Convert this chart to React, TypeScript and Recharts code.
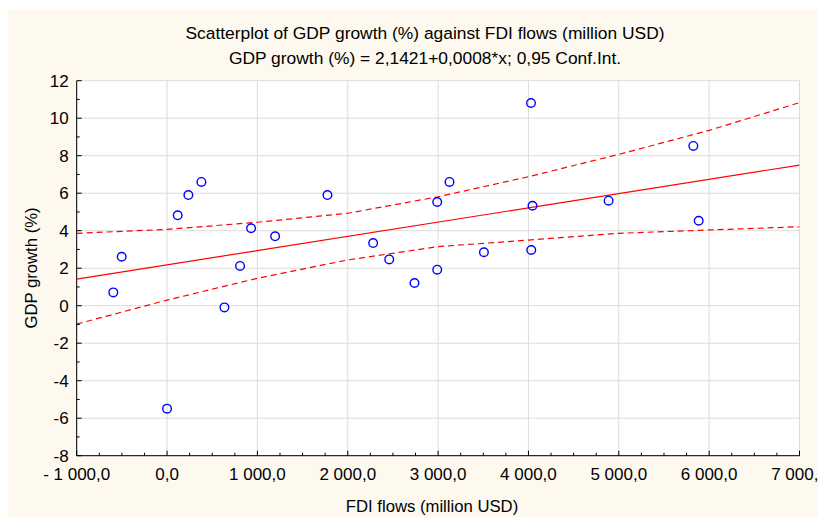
import React from 'react';
import { ScatterChart, Scatter, XAxis, YAxis, CartesianGrid } from 'recharts';

const fdiFlows = [-595, -502, 0, 118, 236, 380, 635, 808, 930, 1196, 1775, 2281, 2459, 2739, 2990, 2990, 3126, 3507, 4028, 4031, 4045, 4887, 5825, 5884];
const gdpGrowth = [0.71, 2.61, -5.49, 4.82, 5.9, 6.6, -0.09, 2.12, 4.13, 3.7, 5.9, 3.34, 2.47, 1.21, 1.92, 5.53, 6.6, 2.85, 10.81, 2.97, 5.33, 5.6, 8.52, 4.53];

// regression line and 0.95 confidence band
const fitX = [-1000, 7000];
const fitY = [1.42, 7.5];
const bandX = [-1000, 0, 1000, 2000, 3000, 4000, 5000, 6000, 7000];
const upperY = [3.86, 4.07, 4.45, 4.93, 5.81, 6.88, 8.07, 9.35, 10.83];
const lowerY = [-0.98, 0.3, 1.46, 2.44, 3.15, 3.5, 3.86, 4.04, 4.21];

const xMajorTicks = [-1000, 0, 1000, 2000, 3000, 4000, 5000, 6000, 7000];
const xMinorTicks = [-750, -500, -250, 250, 500, 750, 1250, 1500, 1750, 2250, 2500, 2750, 3250, 3500, 3750, 4250, 4500, 4750, 5250, 5500, 5750, 6250, 6500, 6750];
const yMajorTicks = [-8, -6, -4, -2, 0, 2, 4, 6, 8, 10, 12];
const yMinorTicks = [-7, -5, -3, -1, 1, 3, 5, 7, 9, 11];

const xTicks = [...xMajorTicks, ...xMinorTicks].sort((a, b) => a - b);
const yTicks = [...yMajorTicks, ...yMinorTicks].sort((a, b) => a - b);

const points = fdiFlows.map((x, i) => ({ x, y: gdpGrowth[i] }));
const fitLine = fitX.map((x, i) => ({ x, y: fitY[i] }));
const upperBand = bandX.map((x, i) => ({ x, y: upperY[i] }));
const lowerBand = bandX.map((x, i) => ({ x, y: lowerY[i] }));

const FONT = '"Liberation Sans", Arial, sans-serif';
const BG = '#fdf9ee';
const TICK_FONT = 17;
const X_MARGIN = 12;
const Y_MARGIN = 8;
const MAJOR = 5;
const MINOR = 3;

const fmtX = (v: number) => {
  const abs = Math.abs(v).toFixed(1).replace('.', ',');
  const [int, dec] = abs.split(',');
  const grouped = int.replace(/\B(?=(\d{3})+(?!\d))/g, ' ');
  return (v < 0 ? '- ' : '') + grouped + ',' + dec;
};

const BottomTick = (props: any) => {
  const { x, y, payload } = props;
  const major = xMajorTicks.includes(payload.value);
  const axisY = y - X_MARGIN;
  return (
    <g>
      <line x1={x} x2={x} y1={axisY} y2={axisY - (major ? MAJOR : MINOR)} stroke="#000" />
      {major && (
        <text x={x} y={y} dy="0.72em" textAnchor="middle" fontFamily={FONT} fontSize={TICK_FONT} fill="#000">
          {fmtX(payload.value)}
        </text>
      )}
    </g>
  );
};

const TopTick = (props: any) => {
  const { x, y, payload } = props;
  const major = xMajorTicks.includes(payload.value);
  return <line x1={x} x2={x} y1={y} y2={y + (major ? MAJOR : MINOR)} stroke="#000" />;
};

const LeftTick = (props: any) => {
  const { x, y, payload } = props;
  const major = yMajorTicks.includes(payload.value);
  const axisX = x + Y_MARGIN;
  return (
    <g>
      <line x1={axisX} x2={axisX + (major ? MAJOR : MINOR)} y1={y} y2={y} stroke="#000" />
      {major && (
        <text x={x} y={y} dy="0.36em" textAnchor="end" fontFamily={FONT} fontSize={TICK_FONT} fill="#000">
          {payload.value}
        </text>
      )}
    </g>
  );
};

const RightTick = (props: any) => {
  const { x, y, payload } = props;
  const major = yMajorTicks.includes(payload.value);
  return <line x1={x} x2={x - (major ? MAJOR : MINOR)} y1={y} y2={y} stroke="#000" />;
};

const Circle = (props: any) => {
  const { cx, cy } = props;
  return <circle cx={cx} cy={cy} r={4.3} fill="none" stroke="#0000ff" strokeWidth={1.4} />;
};

const NoDot = () => <g />;

const W = 818;
const H = 507;

export default function App() {
  return (
    <div style={{ position: 'relative', width: W, height: H, marginTop: 2, background: BG, fontFamily: FONT }}>
      <div style={{ position: 'absolute', left: 117, width: 600, top: 13, lineHeight: '20px', textAlign: 'center', fontSize: 17.4 }}>
        Scatterplot of GDP growth (%) against FDI flows (million USD)
      </div>
      <div style={{ position: 'absolute', left: 117, width: 600, top: 38, lineHeight: '20px', textAlign: 'center', fontSize: 17.4 }}>
        GDP growth (%) = 2,1421+0,0008*x; 0,95 Conf.Int.
      </div>
      <ScatterChart width={W} height={H} margin={{ top: 70.7, right: 26.5, bottom: 0, left: 0 }} style={{ overflow: 'visible' }}>
        <CartesianGrid stroke="#dcdcdc" verticalValues={xMajorTicks} horizontalValues={yMajorTicks} fill="#ffffff" />
        <XAxis
          type="number"
          dataKey="x"
          domain={[-1000, 7000]}
          ticks={xTicks}
          interval={0}
          height={61.3}
          tickSize={0}
          tickMargin={X_MARGIN}
          tick={(p: any) => <BottomTick {...p} />}
          axisLine={{ stroke: '#000' }}
          allowDataOverflow
        />
        <XAxis
          xAxisId="top"
          orientation="top"
          type="number"
          dataKey="x"
          domain={[-1000, 7000]}
          ticks={xTicks}
          interval={0}
          height={0}
          tickSize={0}
          tickMargin={0}
          tick={(p: any) => <TopTick {...p} />}
          axisLine={{ stroke: '#000' }}
          allowDataOverflow
        />
        <YAxis
          type="number"
          dataKey="y"
          domain={[-8, 12]}
          ticks={yTicks}
          interval={0}
          width={68.7}
          tickSize={0}
          tickMargin={Y_MARGIN}
          tick={(p: any) => <LeftTick {...p} />}
          axisLine={{ stroke: '#000' }}
          allowDataOverflow
        />
        <YAxis
          yAxisId="right"
          orientation="right"
          type="number"
          dataKey="y"
          domain={[-8, 12]}
          ticks={yTicks}
          interval={0}
          width={0}
          tickSize={0}
          tickMargin={0}
          tick={(p: any) => <RightTick {...p} />}
          axisLine={{ stroke: '#000' }}
          allowDataOverflow
        />
        <Scatter data={upperBand} line={{ stroke: '#ff0000', strokeWidth: 1.2, strokeDasharray: '6 4' }} shape={NoDot} isAnimationActive={false} />
        <Scatter data={lowerBand} line={{ stroke: '#ff0000', strokeWidth: 1.2, strokeDasharray: '6 4' }} shape={NoDot} isAnimationActive={false} />
        <Scatter data={fitLine} line={{ stroke: '#ff0000', strokeWidth: 1.2 }} shape={NoDot} isAnimationActive={false} />
        <Scatter data={points} shape={Circle} isAnimationActive={false} />
      </ScatterChart>
      <div style={{ position: 'absolute', left: 424 - 150, width: 300, top: 487, lineHeight: '20px', textAlign: 'center', fontSize: 16.7 }}>
        FDI flows (million USD)
      </div>
      <div
        style={{
          position: 'absolute',
          left: 24 - 150,
          top: 258 - 10,
          width: 300,
          lineHeight: '20px',
          textAlign: 'center',
          fontSize: 16.7,
          transform: 'rotate(-90deg)',
        }}
      >
        GDP growth (%)
      </div>
    </div>
  );
}
